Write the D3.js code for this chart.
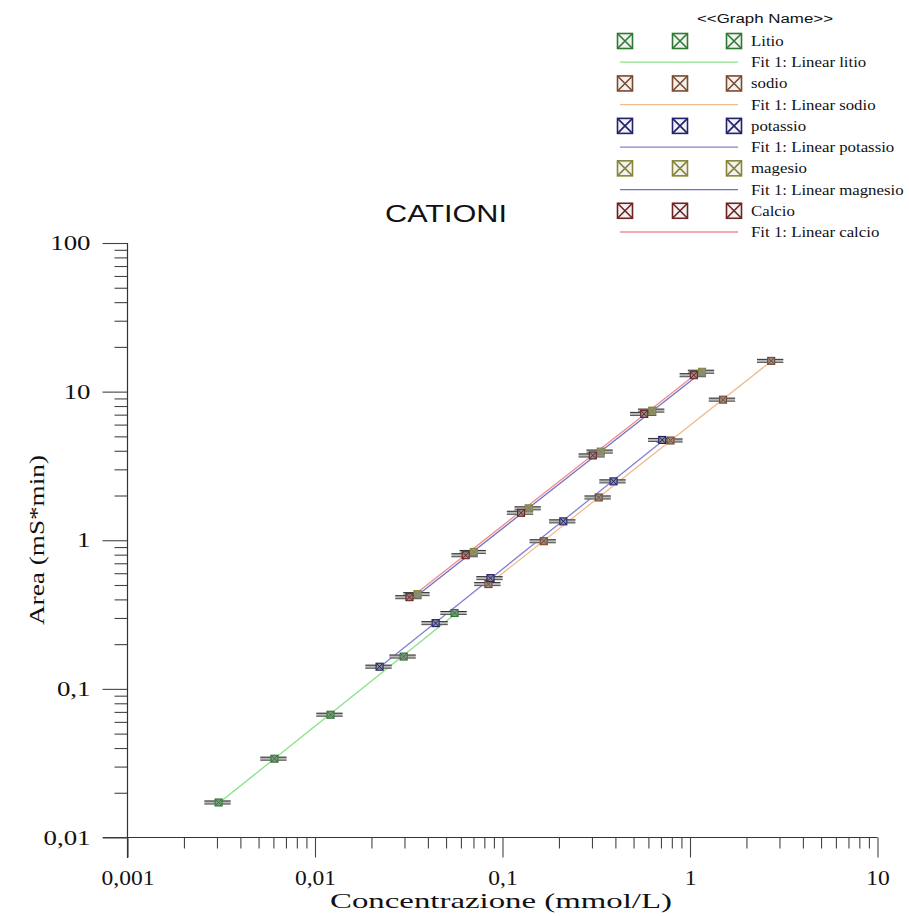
<!DOCTYPE html>
<html>
<head>
<meta charset="utf-8">
<script src="https://cdn.jsdelivr.net/npm/d3@7"></script>
<style>
  body { margin: 0; background: #fff; }
  svg { display: block; }
</style>
</head>
<body>
<div id="canvas"></div>
<script>
// values (mmol/L, mS*min)
var seriesNames = ['Litio', 'sodio', 'potassio', 'magesio', 'Calcio'];
var fitNames = ['Fit 1: Linear litio', 'Fit 1: Linear sodio', 'Fit 1: Linear potassio',
                'Fit 1: Linear magnesio', 'Fit 1: Linear calcio'];

var litioX = [0.00306, 0.00608, 0.0121, 0.0297, 0.0555];
var litioY = [0.0172, 0.0339, 0.067, 0.165, 0.324];

var sodioX = [0.0841, 0.166, 0.326, 0.787, 1.50, 2.71];
var sodioY = [0.507, 0.985, 1.94, 4.69, 8.83, 16.1];

var potassioX = [0.0221, 0.044, 0.0863, 0.211, 0.391, 0.711];
var potassioY = [0.141, 0.277, 0.556, 1.34, 2.49, 4.73];

var magesioX = [0.0352, 0.0703, 0.138, 0.334, 0.629, 1.16];
var magesioY = [0.434, 0.834, 1.64, 3.95, 7.45, 13.6];

var calcioX = [0.0319, 0.0636, 0.1256, 0.303, 0.570, 1.048];
var calcioY = [0.414, 0.793, 1.53, 3.72, 7.08, 12.9];

var xErrRel = 0.16;   // horizontal error bars, fraction of x

var xTickLabels = ['0,001', '0,01', '0,1', '1', '10'];
var yTickLabels = ['0,01', '0,1', '1', '10', '100'];

var symbolColors = ['#2f7a33', '#7d4a2c', '#22226e', '#86863a', '#6e2323'];
var lineColors = ['#86e286', '#f0bb8c', '#8282d2', '#7272c4', '#f08c8c'];

var xs = [litioX, sodioX, potassioX, magesioX, calcioX];
var ys = [litioY, sodioY, potassioY, magesioY, calcioY];

var width = 909, height = 916;
var serif = '"Liberation Serif", "DejaVu Serif", serif';
var sans = '"Liberation Sans", Arial, sans-serif';

var svg = d3.select('#canvas').append('svg')
    .attr('width', width)
    .attr('height', height)
    .style('background', '#fff');

// the source picture is stretched sideways, so widen text to match
function stretch(sel, factor) {
    sel.each(function () {
        var len = this.getComputedTextLength();
        d3.select(this)
            .attr('textLength', len * factor)
            .attr('lengthAdjust', 'spacingAndGlyphs');
    });
}

var x = d3.scaleLog().domain([0.001, 10]).range([127.5, 877.5]);
var y = d3.scaleLog().domain([0.01, 100]).range([837.5, 243]);

function minors(lo, hi) {
    var out = [];
    for (var e = lo; e < hi; e++) {
        for (var k = 2; k <= 9; k++) out.push(k * Math.pow(10, e));
    }
    return out;
}
var xMajor = [0.001, 0.01, 0.1, 1, 10];
var yMajor = [0.01, 0.1, 1, 10, 100];

// x axis
var gx = svg.append('g').attr('transform', 'translate(0,837.5)');
gx.append('line').attr('x1', 103).attr('x2', 877.5).attr('stroke', '#333').attr('stroke-width', 1.2);
gx.call(d3.axisBottom(x).tickValues(minors(-3, 1)).tickSize(11).tickFormat(''));
var gxMajor = gx.append('g').call(d3.axisBottom(x).tickValues(xMajor).tickSize(20).tickPadding(13)
    .tickFormat(function (d, i) { return xTickLabels[i]; }));

// y axis
var gy = svg.append('g').attr('transform', 'translate(127.5,0)');
gy.call(d3.axisLeft(y).tickValues(minors(-2, 2)).tickSize(13).tickFormat(''));
var gyMajor = gy.append('g').call(d3.axisLeft(y).tickValues(yMajor).tickSize(25).tickPadding(12)
    .tickFormat(function (d, i) { return yTickLabels[i]; }));
gy.append('line').attr('y1', 243).attr('y2', 858).attr('stroke', '#333').attr('stroke-width', 1.2);

svg.selectAll('.domain').remove();
svg.selectAll('.tick line').attr('stroke', '#444').attr('stroke-width', 1.1);
svg.selectAll('.tick text')
    .attr('fill', '#111')
    .style('font-family', serif)
    .style('font-size', '21px');
stretch(gxMajor.selectAll('.tick text'), 1.12);
stretch(gyMajor.selectAll('.tick text'), 1.28);

// titles
svg.append('text')
    .attr('x', 501).attr('y', 908)
    .attr('text-anchor', 'middle')
    .style('font-family', serif)
    .style('font-size', '21px')
    .attr('fill', '#111')
    .attr('textLength', 342)
    .attr('lengthAdjust', 'spacingAndGlyphs')
    .text('Concentrazione (mmol/L)');

svg.append('text')
    .attr('transform', 'translate(44,540) rotate(-90)')
    .attr('text-anchor', 'middle')
    .style('font-family', serif)
    .style('font-size', '22px')
    .attr('fill', '#111')
    .attr('textLength', 170)
    .attr('lengthAdjust', 'spacingAndGlyphs')
    .text('Area (mS*min)');

svg.append('text')
    .attr('x', 446).attr('y', 222)
    .attr('text-anchor', 'middle')
    .style('font-family', sans)
    .style('font-size', '23px')
    .attr('fill', '#111')
    .attr('textLength', 122)
    .attr('lengthAdjust', 'spacingAndGlyphs')
    .text('CATIONI');

// straight fit in log-log space from each series
function fitLine(xv, yv) {
    var lx = xv.map(Math.log10), ly = yv.map(Math.log10);
    var mx = d3.mean(lx), my = d3.mean(ly);
    var num = 0, den = 0;
    for (var i = 0; i < lx.length; i++) {
        num += (lx[i] - mx) * (ly[i] - my);
        den += (lx[i] - mx) * (lx[i] - mx);
    }
    var b = num / den, a = my - b * mx;
    var ends = d3.extent(xv);
    return ends.map(function (v) { return [v, Math.pow(10, a + b * Math.log10(v))]; });
}

var line = d3.line()
    .x(function (d) { return x(d[0]); })
    .y(function (d) { return y(d[1]); });

var plot = svg.append('g');

for (var s = 0; s < xs.length; s++) {
    plot.append('path')
        .attr('d', line(fitLine(xs[s], ys[s])))
        .attr('fill', 'none')
        .attr('stroke', lineColors[s])
        .attr('stroke-width', 1.3);
}

function drawMarker(g, cx, cy, size, color, fill) {
    var h = size / 2;
    g.append('rect')
        .attr('x', cx - h).attr('y', cy - h)
        .attr('width', size).attr('height', size)
        .attr('fill', fill)
        .attr('stroke', color)
        .attr('stroke-width', size > 10 ? 1.6 : 1.1);
    g.append('path')
        .attr('d', 'M' + (cx - h) + ',' + (cy - h) + 'L' + (cx + h) + ',' + (cy + h) +
                   'M' + (cx - h) + ',' + (cy + h) + 'L' + (cx + h) + ',' + (cy - h))
        .attr('stroke', color)
        .attr('stroke-width', size > 10 ? 1.6 : 1);
}

for (s = 0; s < xs.length; s++) {
    xs[s].forEach(function (xv, i) {
        var yv = ys[s][i];
        var x0 = x(xv * (1 - xErrRel)), x1 = x(xv * (1 + xErrRel)), py = y(yv);
        plot.append('rect')
            .attr('x', x0).attr('y', py - 2)
            .attr('width', x1 - x0).attr('height', 4)
            .attr('fill', '#b8b8b8');
        plot.append('line')
            .attr('x1', x0).attr('x2', x1)
            .attr('y1', py - 1.5).attr('y2', py - 1.5)
            .attr('stroke', '#333').attr('stroke-width', 1);
        plot.append('line')
            .attr('x1', x0).attr('x2', x1)
            .attr('y1', py + 1.5).attr('y2', py + 1.5)
            .attr('stroke', '#555').attr('stroke-width', 1);
    });
}

for (s = 0; s < xs.length; s++) {
    xs[s].forEach(function (xv, i) {
        drawMarker(plot, x(xv), y(ys[s][i]), 7, symbolColors[s], '#8e8e8e');
    });
}

// legend
var legend = svg.append('g');
legend.append('text')
    .attr('x', 765).attr('y', 23)
    .attr('text-anchor', 'middle')
    .style('font-family', sans)
    .style('font-size', '12px')
    .attr('fill', '#111')
    .attr('textLength', 136)
    .attr('lengthAdjust', 'spacingAndGlyphs')
    .text('<<Graph Name>>');

var rowY = d3.scaleLinear().domain([0, 9]).range([41, 232]);
var symX = [625, 680, 734];

for (s = 0; s < seriesNames.length; s++) {
    var ry = rowY(s * 2), ly = rowY(s * 2 + 1);
    symX.forEach(function (sx) {
        drawMarker(legend, sx, ry, 15, symbolColors[s], '#f2f2f2');
    });
    legend.append('text')
        .attr('class', 'leg')
        .attr('x', 751).attr('y', ry + 5)
        .text(seriesNames[s]);
    legend.append('line')
        .attr('x1', 620).attr('x2', 738)
        .attr('y1', ly).attr('y2', ly)
        .attr('stroke', lineColors[s])
        .attr('stroke-width', 1.3);
    legend.append('text')
        .attr('class', 'leg')
        .attr('x', 751).attr('y', ly + 5)
        .text(fitNames[s]);
}
legend.selectAll('text.leg')
    .style('font-family', serif)
    .style('font-size', '14px')
    .attr('fill', '#111');
stretch(legend.selectAll('text.leg'), 1.2);
</script>
</body>
</html>
